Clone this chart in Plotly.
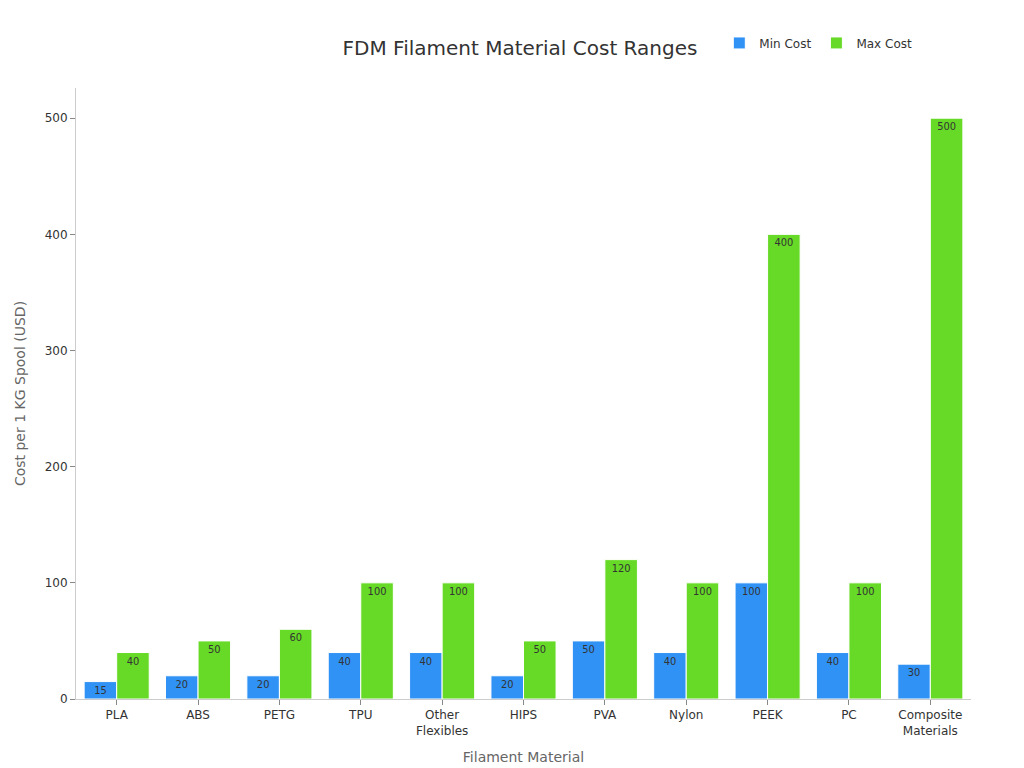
import plotly.graph_objects as go

materials = ["PLA", "ABS", "PETG", "TPU", "Other<br>Flexibles", "HIPS", "PVA", "Nylon", "PEEK", "PC", "Composite<br>Materials"]
min_cost = [15, 20, 20, 40, 40, 20, 50, 40, 100, 40, 30]
max_cost = [40, 50, 60, 100, 100, 50, 120, 100, 400, 100, 500]

fig = go.Figure()
for name, vals, col in [("Min Cost", min_cost, "#3092F5"), ("Max Cost", max_cost, "#66DA26")]:
    fig.add_trace(go.Bar(
        x=materials, y=vals, name=name, marker_color=col,
        marker_line_color="white", marker_line_width=1,
        text=vals, textposition="inside", insidetextanchor="end",
        textfont=dict(color="#333333", size=13), textangle=0,
    ))

fig.update_layout(
    width=1024, height=768,
    paper_bgcolor="white", plot_bgcolor="white",
    font=dict(family="DejaVu Sans", size=12, color="#333333"),
    title=dict(text="FDM Filament Material Cost Ranges", x=0.5, y=0.957, xanchor="center",
               font=dict(size=20, color="#333333")),
    margin=dict(l=68, r=61, t=80, b=77),
    barmode="group", bargap=0.2, bargroupgap=0,
    legend=dict(orientation="h", x=0.94, xanchor="right", y=1.05, yanchor="bottom",
                font=dict(size=12)),
    uniformtext=dict(minsize=8, mode="show"),
)
fig.update_xaxes(title=dict(text="Filament Material", font=dict(size=14, color="#666666")),
                 showline=True, linecolor="#cccccc", ticks="outside", tickcolor="#888888",
                 ticklen=5, tickfont=dict(size=12))
fig.update_yaxes(title=dict(text="Cost per 1 KG Spool (USD)", font=dict(size=14, color="#666666")),
                 range=[0, 526], showgrid=False, showline=True, linecolor="#cccccc",
                 ticks="outside", tickcolor="#888888", ticklen=5, dtick=100, zeroline=False,
                 tickfont=dict(size=12))
fig.write_html("out.html")
